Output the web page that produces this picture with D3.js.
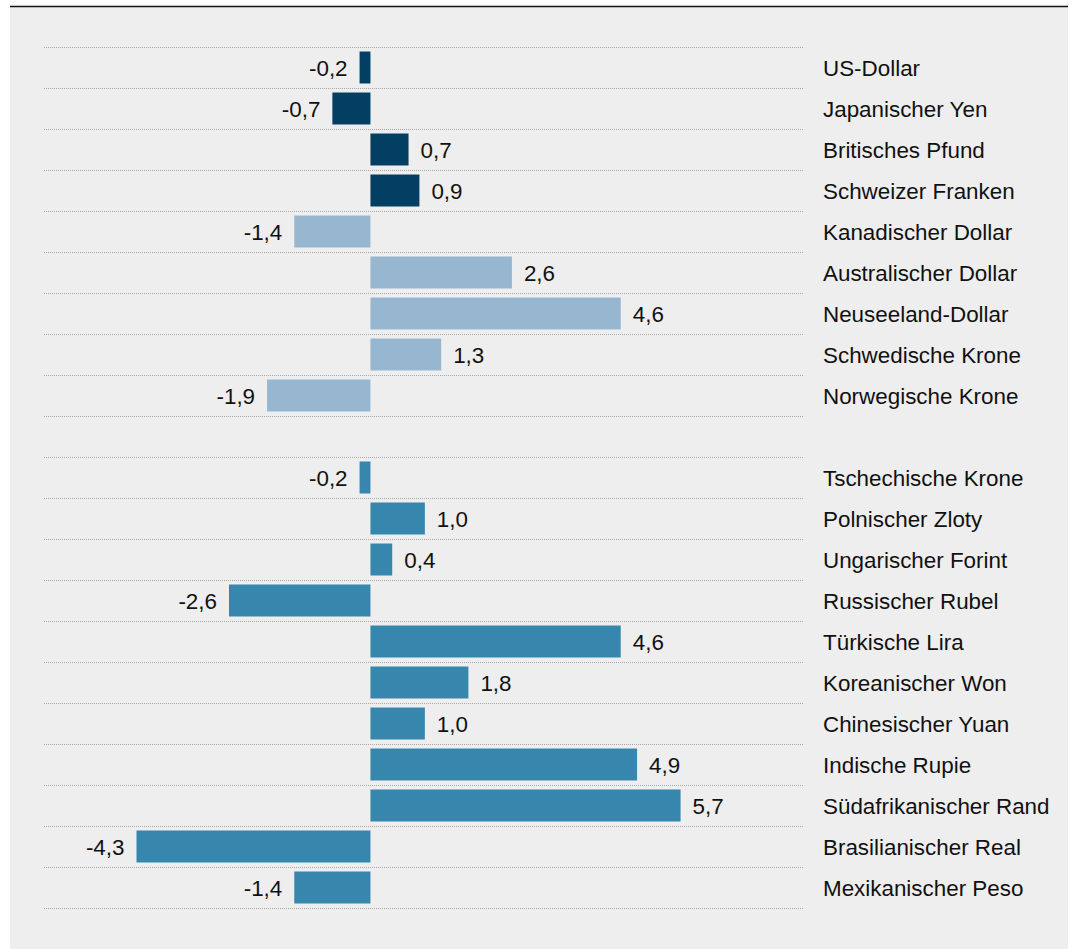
<!DOCTYPE html>
<html>
<head>
<meta charset="utf-8">
<script src="https://cdn.jsdelivr.net/npm/d3@7"></script>
<style>
  html, body { margin: 0; padding: 0; background: #fff; }
  svg { display: block; }
</style>
</head>
<body>
<div id="chart"></div>
<script>
// Industrieländer (first 4 dark, next 5 light) and Schwellenländer
var majorNames = ["US-Dollar", "Japanischer Yen", "Britisches Pfund", "Schweizer Franken"];
var majorValues = [-0.2, -0.7, 0.7, 0.9];
var otherNames = ["Kanadischer Dollar", "Australischer Dollar", "Neuseeland-Dollar", "Schwedische Krone", "Norwegische Krone"];
var otherValues = [-1.4, 2.6, 4.6, 1.3, -1.9];
var emergingNames = ["Tschechische Krone", "Polnischer Zloty", "Ungarischer Forint", "Russischer Rubel", "Türkische Lira",
  "Koreanischer Won", "Chinesischer Yuan", "Indische Rupie", "Südafrikanischer Rand", "Brasilianischer Real", "Mexikanischer Peso"];
var emergingValues = [-0.2, 1.0, 0.4, -2.6, 4.6, 1.8, 1.0, 4.9, 5.7, -4.3, -1.4];

var colors = { major: "#023f63", other: "#97b7d1", emerging: "#3786ae" };

// build rows, with one empty row between the two blocks
var rows = [];
majorNames.forEach(function (n, i) { rows.push({ name: n, value: majorValues[i], group: "major" }); });
otherNames.forEach(function (n, i) { rows.push({ name: n, value: otherValues[i], group: "other" }); });
rows.push({ name: "", value: null, group: "gap" });
emergingNames.forEach(function (n, i) { rows.push({ name: n, value: emergingValues[i], group: "emerging" }); });

var width = 1070, height = 949;
var font = "'Liberation Sans', Arial, sans-serif";
var fmt = function (v) { return d3.format(".1f")(v).replace("\u2212", "-").replace(".", ","); };

var svg = d3.select("#chart").append("svg")
  .attr("width", width)
  .attr("height", height);

svg.append("rect")
  .attr("x", 10).attr("y", 6)
  .attr("width", 1058).attr("height", height - 6)
  .attr("fill", "#eeeeee");

svg.append("line")
  .attr("x1", 10).attr("x2", 1068)
  .attr("y1", 6.5).attr("y2", 6.5)
  .attr("stroke", "#111").attr("stroke-width", 1.5);

var x = d3.scaleLinear().domain([-6, 7.95]).range([44, 803]);
var y = d3.scaleBand()
  .domain(d3.range(rows.length))
  .range([47, 47 + 41 * rows.length])
  .paddingInner(0.22)
  .paddingOuter(0.11);

var g = svg.append("g");

// dotted separators
var lineYs = d3.range(rows.length + 1).map(function (i) {
  return 47 + i * y.step();
});
g.selectAll("line.sep")
  .data(lineYs)
  .join("line")
  .attr("class", "sep")
  .attr("x1", x.range()[0]).attr("x2", x.range()[1])
  .attr("y1", function (d) { return Math.round(d) + 0.5; })
  .attr("y2", function (d) { return Math.round(d) + 0.5; })
  .attr("stroke", "#a8a8a8")
  .attr("stroke-width", 1)
  .attr("stroke-dasharray", "1,1");

var data = rows.map(function (d, i) { d.i = i; return d; }).filter(function (d) { return d.value !== null; });

g.selectAll("rect.bar")
  .data(data)
  .join("rect")
  .attr("class", "bar")
  .attr("x", function (d) { return Math.min(x(0), x(d.value)); })
  .attr("y", function (d) { return y(d.i); })
  .attr("width", function (d) { return Math.abs(x(d.value) - x(0)); })
  .attr("height", y.bandwidth())
  .attr("fill", function (d) { return colors[d.group]; });

g.selectAll("text.val")
  .data(data)
  .join("text")
  .attr("class", "val")
  .attr("x", function (d) { return d.value < 0 ? x(d.value) - 12 : x(d.value) + 12; })
  .attr("y", function (d) { return y(d.i) + y.bandwidth() / 2; })
  .attr("dy", "0.38em")
  .attr("text-anchor", function (d) { return d.value < 0 ? "end" : "start"; })
  .style("font-family", font)
  .style("font-size", "22.4px")
  .attr("fill", "#111")
  .text(function (d) { return fmt(d.value); });

g.selectAll("text.cat")
  .data(data)
  .join("text")
  .attr("class", "cat")
  .attr("x", 823)
  .attr("y", function (d) { return y(d.i) + y.bandwidth() / 2; })
  .attr("dy", "0.38em")
  .style("font-family", font)
  .style("font-size", "22.4px")
  .attr("fill", "#111")
  .text(function (d) { return d.name; });
</script>
</body>
</html>
